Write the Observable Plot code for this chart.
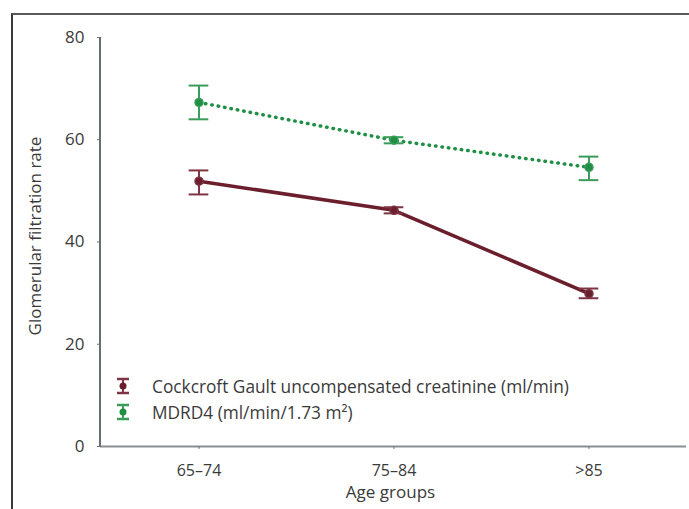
<!DOCTYPE html>
<html>
<head>
<meta charset="utf-8">
<script src="https://cdn.jsdelivr.net/npm/d3@7"></script>
<script src="https://cdn.jsdelivr.net/npm/@observablehq/plot@0.6"></script>
<style>
  html, body { margin: 0; padding: 0; background: #fff; }
  #wrap { position: relative; width: 689px; height: 509px; overflow: hidden; font-family: "Open Sans", sans-serif; }
  #wrap svg.plot { position: absolute; left: 0; top: 0; }
  #border { position: absolute; left: 11px; top: 13px; width: 700px; height: 520px; border-top: 2px solid #5a5a5a; border-left: 2px solid #3a3a3a; }
  #legend { position: absolute; left: 116px; top: 373px; font-size: 17.3px; color: #3a3a3a; }
  #legend .row { display: flex; align-items: center; height: 26px; }
  #legend svg { margin-right: 22px; }
</style>
</head>
<body>
<div id="wrap">
  <div id="border"></div>
</div>
<script>
const groups = ["65–74", "75–84", ">85"];
const seriesNames = ["Cockcroft Gault uncompensated creatinine (ml/min)", "MDRD4 (ml/min/1.73 m²)"];
const cgMean = [51.9, 46.2, 29.9];
const cgLow = [49.3, 45.6, 29.0];
const cgHigh = [54.0, 46.8, 30.9];
const mdMean = [67.3, 59.9, 54.6];
const mdLow = [64.0, 59.3, 52.1];
const mdHigh = [70.6, 60.5, 56.7];
const yTicks = [0, 20, 40, 60, 80];

const red = "#6b1e2c", redBar = "#7d3444";
const green = "#1f8f45", greenBar = "#3a9c5a";

const cg = groups.map((g, i) => ({group: g, mean: cgMean[i], low: cgLow[i], high: cgHigh[i]}));
const md = groups.map((g, i) => ({group: g, mean: mdMean[i], low: mdLow[i], high: mdHigh[i]}));

const W = 689, ML = 100, MR = 3;
const bw = (W - ML - MR) / groups.length;
const capInset = (bw - 20) / 2;

const chart = Plot.plot({
  width: W,
  height: 509,
  marginLeft: ML,
  marginTop: 37,
  marginBottom: 63,
  marginRight: MR,
  style: {fontFamily: "'Open Sans', sans-serif", fontSize: "16px", color: "#3a3a3a"},
  x: {type: "band", domain: groups, padding: 0, label: null},
  y: {domain: [0, 80], label: null},
  marks: [
    Plot.ruleY([0], {stroke: "#8a9090", strokeWidth: 2}),
    Plot.axisY({ticks: yTicks, tickSize: 3, tickPadding: 13, stroke: "#777", fontSize: 17, label: null}),
    Plot.axisX({tickSize: 3, tickPadding: 15, stroke: "#777", fontSize: 16, label: null}),
    Plot.text(["Glomerular filtration rate"], {frameAnchor: "left", textAnchor: "middle", rotate: -90, dx: -65, dy: -6, fontSize: 17, fill: "#3a3a3a"}),
    Plot.text(["Age groups"], {frameAnchor: "bottom", textAnchor: "middle", dy: 51, dx: -3, fontSize: 17, fill: "#3a3a3a"}),
    // MDRD4
    Plot.line(md, {x: "group", y: "mean", stroke: green, strokeWidth: 3.5, strokeDasharray: "0.5,6", strokeLinecap: "round"}),
    Plot.ruleX(md, {x: "group", y1: "low", y2: "high", stroke: greenBar, strokeWidth: 2}),
    Plot.tickY(md, {x: "group", y: "low", stroke: greenBar, strokeWidth: 2, insetLeft: capInset, insetRight: capInset}),
    Plot.tickY(md, {x: "group", y: "high", stroke: greenBar, strokeWidth: 2, insetLeft: capInset, insetRight: capInset}),
    Plot.dot(md, {x: "group", y: "mean", r: 4, fill: green, stroke: greenBar}),
    // Cockcroft Gault
    Plot.line(cg, {x: "group", y: "mean", stroke: red, strokeWidth: 3.5}),
    Plot.ruleX(cg, {x: "group", y1: "low", y2: "high", stroke: redBar, strokeWidth: 2}),
    Plot.tickY(cg, {x: "group", y: "low", stroke: redBar, strokeWidth: 2, insetLeft: capInset, insetRight: capInset}),
    Plot.tickY(cg, {x: "group", y: "high", stroke: redBar, strokeWidth: 2, insetLeft: capInset, insetRight: capInset}),
    Plot.dot(cg, {x: "group", y: "mean", r: 4, fill: red, stroke: redBar})
  ]
});
chart.classList.add("plot");
// y axis line
const ys = chart.scale("y");
const svgNS = "http://www.w3.org/2000/svg";
const axisLine = document.createElementNS(svgNS, "line");
axisLine.setAttribute("x1", ML); axisLine.setAttribute("x2", ML);
axisLine.setAttribute("y1", ys.apply(80)); axisLine.setAttribute("y2", ys.apply(0) + 1);
axisLine.setAttribute("stroke", "#667070"); axisLine.setAttribute("stroke-width", 2);
chart.appendChild(axisLine);
document.getElementById("wrap").appendChild(chart);

// legend
const legend = document.createElement("div");
legend.id = "legend";
const colors = [[red, redBar], [green, greenBar]];
seriesNames.forEach((name, i) => {
  const row = document.createElement("div");
  row.className = "row";
  row.innerHTML = `<svg width="14" height="18"><line x1="7" x2="7" y1="2" y2="16" stroke="${colors[i][1]}" stroke-width="2"/><line x1="1" x2="13" y1="2" y2="2" stroke="${colors[i][1]}" stroke-width="2.5"/><line x1="1" x2="13" y1="16" y2="16" stroke="${colors[i][1]}" stroke-width="2.5"/><circle cx="7" cy="9" r="3.5" fill="${colors[i][0]}"/></svg><span></span>`;
  row.querySelector("span").textContent = name;
  legend.appendChild(row);
});
document.getElementById("wrap").appendChild(legend);
</script>
</body>
</html>
